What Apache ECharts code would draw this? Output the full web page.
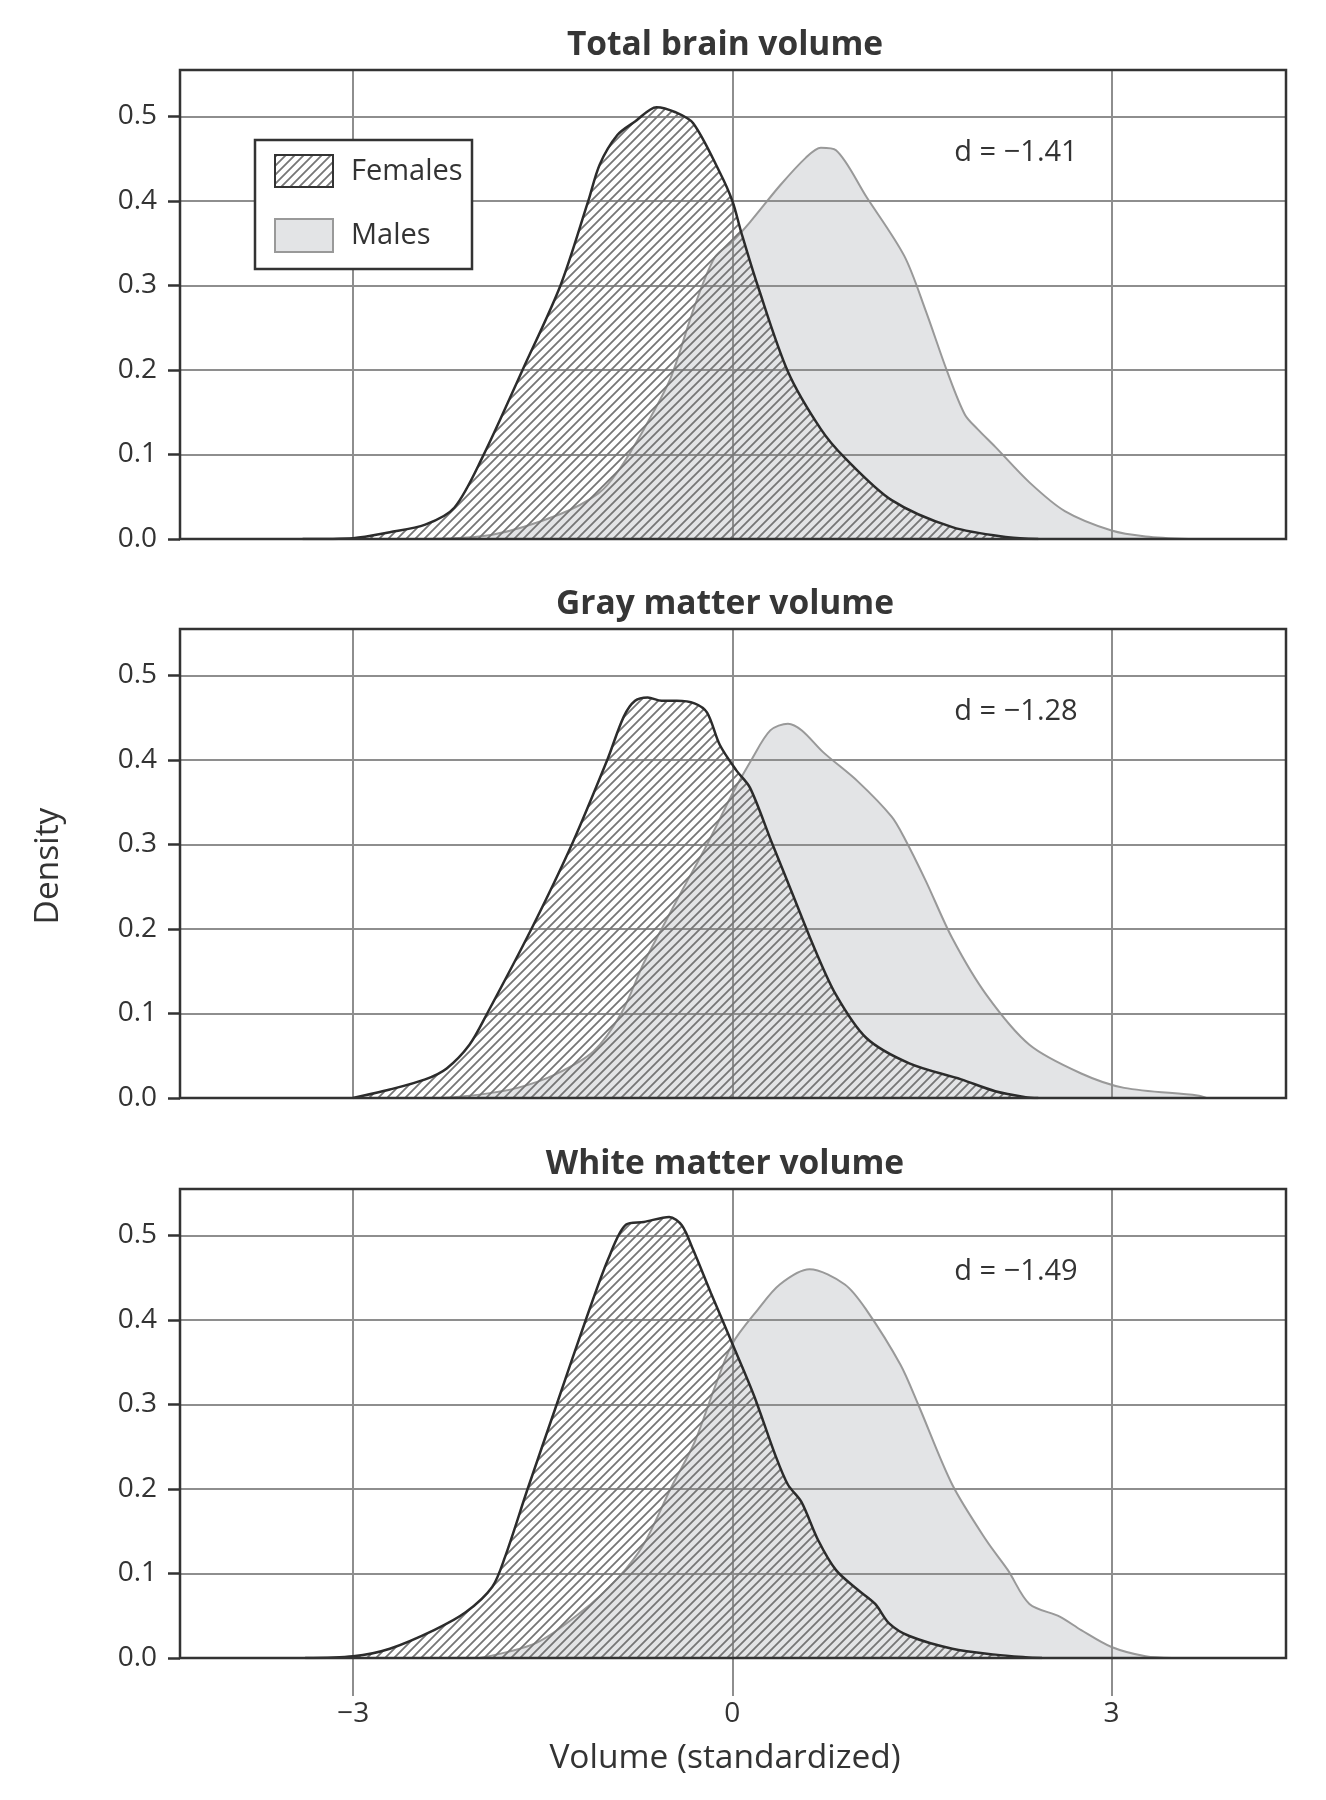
<!DOCTYPE html>
<html><head><meta charset="utf-8">
<script src="https://cdn.jsdelivr.net/npm/echarts@6/dist/echarts.min.js"></script>
<style>html,body{margin:0;padding:0;background:#fff}#chart{width:1326px;height:1800px}</style>
</head><body><div id="chart"></div>
<script>
// ---------- data ----------
const panelTitles = ['Total brain volume', 'Gray matter volume', 'White matter volume'];
const effectSizes = ['d = \u22121.41', 'd = \u22121.28', 'd = \u22121.49'];
const seriesNames = ['Females', 'Males'];
const xTickValues = [-3, 0, 3];
const yTickValues = [0, 0.1, 0.2, 0.3, 0.4, 0.5];
const xAxisTitle = 'Volume (standardized)';
const yAxisTitle = 'Density';

const totalFemales = [[-3.40,0],[-3.0,0.001],[-2.71,0.008],[-2.43,0.017],[-2.2,0.037],[-1.97,0.099],[-1.66,0.20],[-1.36,0.30],[-1.14,0.40],[-1.05,0.443],[-0.91,0.478],[-0.77,0.494],[-0.6,0.511],[-0.45,0.505],[-0.31,0.492],[-0.1,0.434],[0,0.40],[0.07,0.363],[0.2,0.30],[0.44,0.198],[0.7,0.130],[0.89,0.096],[1.26,0.046],[1.74,0.014],[2.18,0.002],[2.42,0]];
const totalMales = [[-2.4,0],[-1.9,0.005],[-1.37,0.029],[-1.06,0.054],[-0.91,0.079],[-0.7,0.13],[-0.49,0.19],[-0.3,0.275],[-0.14,0.333],[0,0.352],[0.14,0.375],[0.375,0.418],[0.58,0.451],[0.7,0.463],[0.82,0.46],[1.06,0.405],[1.36,0.335],[1.53,0.27],[1.70,0.198],[1.84,0.147],[1.94,0.130],[2.08,0.109],[2.35,0.067],[2.63,0.033],[3.0,0.010],[3.27,0.003],[3.61,0]];
const grayFemales = [[-3.0,0],[-2.71,0.010],[-2.43,0.022],[-2.26,0.035],[-2.08,0.063],[-1.94,0.10],[-1.59,0.20],[-1.27,0.30],[-0.99,0.40],[-0.86,0.451],[-0.77,0.47],[-0.67,0.474],[-0.56,0.47],[-0.44,0.470],[-0.3,0.467],[-0.2,0.456],[-0.1,0.418],[0.03,0.388],[0.14,0.367],[0.31,0.303],[0.48,0.24],[0.65,0.177],[0.82,0.122],[1.06,0.071],[1.40,0.041],[1.81,0.022],[2.08,0.008],[2.32,0.001],[2.42,0]];
const grayMales = [[-2.3,0],[-2.0,0.004],[-1.7,0.012],[-1.4,0.028],[-1.1,0.055],[-0.88,0.10],[-0.7,0.16],[-0.56,0.20],[-0.4,0.245],[-0.2,0.30],[0,0.36],[0.15,0.40],[0.3,0.435],[0.44,0.443],[0.55,0.435],[0.72,0.409],[0.99,0.375],[1.26,0.333],[1.36,0.308],[1.53,0.257],[1.74,0.189],[2.01,0.122],[2.35,0.063],[2.76,0.029],[3.10,0.012],[3.68,0.003],[3.75,0]];
const whiteFemales = [[-3.38,0],[-3.0,0.002],[-2.71,0.011],[-2.36,0.033],[-2.11,0.054],[-1.90,0.084],[-1.80,0.119],[-1.62,0.20],[-1.39,0.30],[-1.16,0.40],[-0.98,0.473],[-0.84,0.513],[-0.70,0.516],[-0.5,0.522],[-0.4,0.512],[-0.31,0.483],[-0.17,0.432],[0,0.372],[0.17,0.311],[0.34,0.24],[0.44,0.205],[0.545,0.185],[0.68,0.139],[0.82,0.104],[0.99,0.081],[1.13,0.064],[1.24,0.041],[1.40,0.026],[1.74,0.011],[2.08,0.004],[2.32,0.001],[2.45,0]];
const whiteMales = [[-2.0,0],[-1.55,0.018],[-1.2,0.054],[-0.91,0.094],[-0.7,0.135],[-0.49,0.20],[-0.3,0.255],[-0.14,0.32],[0,0.372],[0.2,0.412],[0.375,0.442],[0.61,0.46],[0.89,0.442],[1.06,0.412],[1.33,0.347],[1.47,0.30],[1.74,0.205],[2.01,0.139],[2.18,0.104],[2.35,0.064],[2.59,0.049],[2.76,0.033],[3.0,0.013],[3.27,0.002],[3.48,0]];

const femalesByPanel = [totalFemales, grayFemales, whiteFemales];
const malesByPanel = [totalMales, grayMales, whiteMales];

// ---------- style ----------
const FONT = 'Open Sans';
const TEXT = '#333333';
const GRIDLINE = '#8e8e8e';
const BORDER = '#333333';
const MALE_FILL = '#e3e4e6';
const MALE_LINE = '#999999';
const FEMALE_LINE = '#2c2c2c';
const X_MIN = -4.37, X_MAX = 4.38, Y_MIN = 0, Y_MAX = 0.555;
const GRID_LEFT = 180, GRID_WIDTH = 1106, GRID_HEIGHT = 469;
const GRID_TOPS = [70, 629, 1189];

function makeHatch() {
  const s = 9, c = document.createElement('canvas');
  c.width = s; c.height = s;
  const g = c.getContext('2d');
  g.strokeStyle = '#767676'; g.lineWidth = 1.8; g.lineCap = 'square';
  g.beginPath();
  g.moveTo(-1, s + 1); g.lineTo(s + 1, -1);
  g.moveTo(-2, 2); g.lineTo(2, -2);
  g.moveTo(s - 2, s + 2); g.lineTo(s + 2, s - 2);
  g.stroke();
  return c;
}
const hatchCanvas = makeHatch();
const hatch = () => ({ image: hatchCanvas, repeat: 'repeat' });

const fmtX = v => (v < 0 ? '\u2212' + Math.abs(v) : String(v));

const grids = [], xAxes = [], yAxes = [], series = [], graphics = [];

GRID_TOPS.forEach((top, i) => {
  const last = i === GRID_TOPS.length - 1;
  grids.push({ left: GRID_LEFT, top: top, width: GRID_WIDTH, height: GRID_HEIGHT,
    show: true, borderColor: BORDER, borderWidth: 2.5, backgroundColor: 'transparent', z: 10 });
  xAxes.push({ gridIndex: i, type: 'value', min: X_MIN, max: X_MAX, z: 3, position: 'bottom',
    axisLine: { show: false, onZero: false }, splitLine: { show: false },
    axisTick: { show: last, customValues: xTickValues, length: 38, lineStyle: { color: GRIDLINE, width: 2 } },
    axisLabel: { show: last, customValues: xTickValues, margin: 42, formatter: fmtX,
      fontSize: 28, color: TEXT, fontFamily: FONT } });
  yAxes.push({ gridIndex: i, type: 'value', min: Y_MIN, max: Y_MAX, interval: 0.1, z: 3, position: 'left',
    axisLine: { show: false, onZero: false },
    splitLine: { show: true, lineStyle: { color: GRIDLINE, width: 2 } },
    axisTick: { show: true, customValues: yTickValues, length: 12, lineStyle: { color: BORDER, width: 2.5 } },
    axisLabel: { show: true, customValues: yTickValues, margin: 23, formatter: v => v.toFixed(1),
      fontSize: 28, color: TEXT, fontFamily: FONT } });

  series.push({ name: seriesNames[1], type: 'line', xAxisIndex: i, yAxisIndex: i,
    data: malesByPanel[i], smooth: 0.3, symbol: 'none', z: 2,
    lineStyle: { color: MALE_LINE, width: 2 },
    areaStyle: { color: MALE_FILL, opacity: 1, origin: 'start' },
    markLine: { silent: true, symbol: 'none', z: 4, label: { show: false },
      lineStyle: { color: GRIDLINE, width: 2, type: 'solid' },
      data: xTickValues.map(v => ({ xAxis: v })) } });
  series.push({ name: seriesNames[0], type: 'line', xAxisIndex: i, yAxisIndex: i,
    data: femalesByPanel[i], smooth: 0.3, symbol: 'none', z: 6,
    lineStyle: { color: FEMALE_LINE, width: 2.5 },
    areaStyle: { color: hatch(), opacity: 1, origin: 'start' } });

  graphics.push({ type: 'text', z: 50, position: [725, top - 25],
    style: { text: panelTitles[i], fill: '#363636', font: 'bold 33.5px "' + FONT + '"',
      textAlign: 'center', textVerticalAlign: 'middle' } });
  graphics.push({ type: 'text', z: 50, position: [1016, top + 83],
    style: { text: effectSizes[i], fill: TEXT, font: '29px "' + FONT + '"',
      textAlign: 'center', textVerticalAlign: 'middle' } });
});

// legend (drawn as graphics to reproduce the hatched swatch)
graphics.push({ type: 'rect', z: 60, shape: { x: 255, y: 140, width: 217, height: 129 },
  style: { fill: '#ffffff', stroke: BORDER, lineWidth: 2.5 } });
graphics.push({ type: 'rect', z: 61, shape: { x: 275, y: 155, width: 58, height: 32 },
  style: { fill: hatch(), stroke: BORDER, lineWidth: 2 } });
graphics.push({ type: 'rect', z: 61, shape: { x: 275, y: 219, width: 58, height: 33 },
  style: { fill: MALE_FILL, stroke: MALE_LINE, lineWidth: 2 } });
graphics.push({ type: 'text', z: 61, position: [351, 172],
  style: { text: seriesNames[0], fill: TEXT, font: '29px "' + FONT + '"', textVerticalAlign: 'middle' } });
graphics.push({ type: 'text', z: 61, position: [351, 236],
  style: { text: seriesNames[1], fill: TEXT, font: '29px "' + FONT + '"', textVerticalAlign: 'middle' } });

graphics.push({ type: 'text', z: 50, position: [725, 1758],
  style: { text: xAxisTitle, fill: TEXT, font: '33.5px "' + FONT + '"', textAlign: 'center', textVerticalAlign: 'middle' } });
graphics.push({ type: 'text', z: 50, position: [48, 866], rotation: Math.PI / 2,
  style: { text: yAxisTitle, fill: TEXT, font: '33.5px "' + FONT + '"', textAlign: 'center', textVerticalAlign: 'middle' } });

const chart = echarts.init(document.getElementById('chart'), null, { renderer: 'canvas' });
chart.setOption({
  animation: false,
  backgroundColor: '#ffffff',
  grid: grids, xAxis: xAxes, yAxis: yAxes, series: series,
  graphic: { elements: graphics }
});
</script></body></html>
